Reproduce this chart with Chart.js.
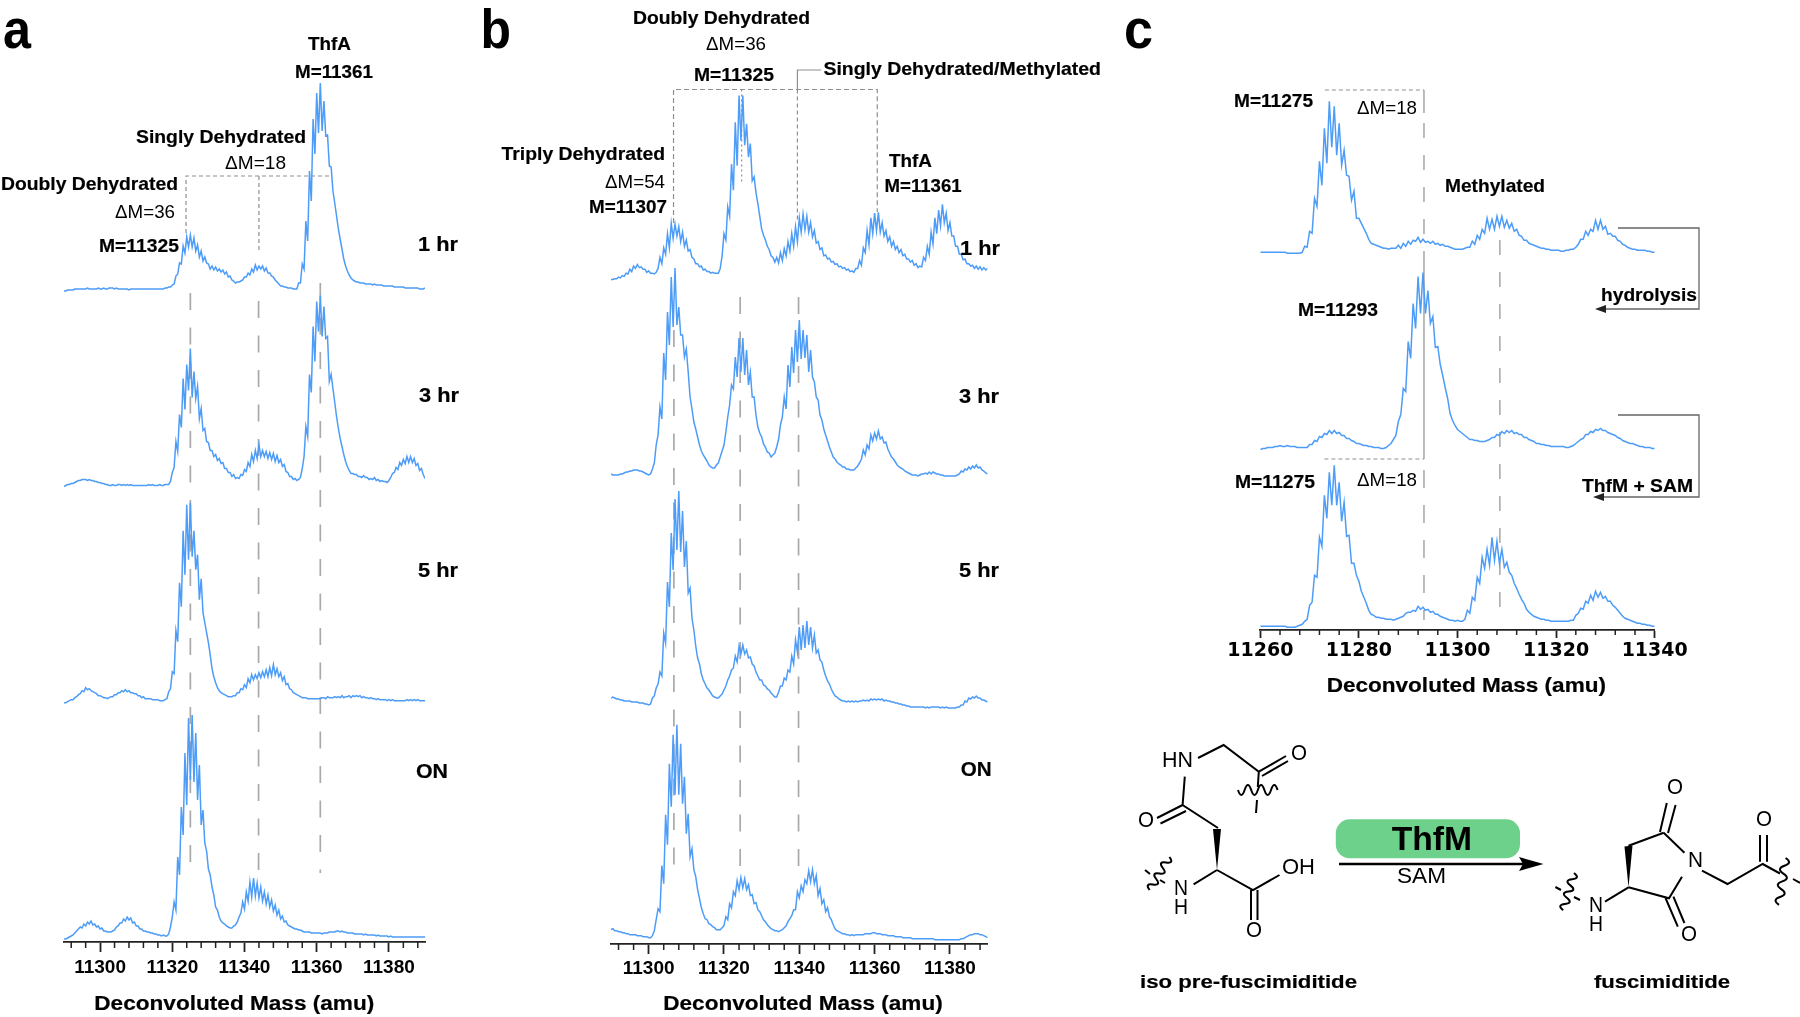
<!DOCTYPE html>
<html>
<head>
<meta charset="utf-8">
<title>Deconvoluted mass spectra</title>
<script src="https://cdn.jsdelivr.net/npm/chart.js@4"></script>
<style>
  html, body { margin: 0; padding: 0; background: #fff; }
  body { width: 1800px; height: 1017px; position: relative; overflow: hidden; }
  canvas, svg { position: absolute; left: 0; top: 0; }
  text { font-family: "Liberation Sans", Arial, sans-serif; fill: #000; }
  .b { font-weight: 700; font-size: 19px; stroke: #000; stroke-width: 0.2; }
  .r { font-size: 19px; }
  .big { font-weight: 700; font-size: 56px; }
  .hr { font-weight: 700; font-size: 20.5px; stroke: #000; stroke-width: 0.2; }
  .ax { font-weight: 700; font-size: 19.5px; stroke: #000; stroke-width: 0.2; }
  .atom { font-size: 22px; }
  .bond { stroke: #000; stroke-width: 2; fill: none; }
  .brk { stroke: #666; stroke-width: 1.3; fill: none; }
</style>
</head>
<body>
<canvas id="panelA" width="1800" height="1017"></canvas>
<canvas id="panelB" width="1800" height="1017"></canvas>
<canvas id="panelC" width="1800" height="1017"></canvas>

<svg width="1800" height="1017" viewBox="0 0 1800 1017">
  <!-- panel letters -->
  <text class="big" x="3" y="47.5" textLength="28" lengthAdjust="spacingAndGlyphs">a</text>
  <text class="big" x="480.5" y="47.7" textLength="30.5" lengthAdjust="spacingAndGlyphs">b</text>
  <text class="big" x="1124" y="48" textLength="29" lengthAdjust="spacingAndGlyphs">c</text>

  <!-- panel a labels -->
  <text class="b" x="308" y="50" textLength="43" lengthAdjust="spacingAndGlyphs">ThfA</text>
  <text class="b" x="295" y="78" textLength="78" lengthAdjust="spacingAndGlyphs">M=11361</text>
  <text class="b" x="136" y="143" textLength="170" lengthAdjust="spacingAndGlyphs">Singly Dehydrated</text>
  <text class="r" x="225" y="169" textLength="61" lengthAdjust="spacingAndGlyphs">ΔM=18</text>
  <text class="b" x="1" y="190" textLength="177" lengthAdjust="spacingAndGlyphs">Doubly Dehydrated</text>
  <text class="r" x="115" y="218" textLength="60" lengthAdjust="spacingAndGlyphs">ΔM=36</text>
  <text class="b" x="99" y="252" textLength="80" lengthAdjust="spacingAndGlyphs">M=11325</text>
  <text class="hr" x="418" y="251" textLength="40" lengthAdjust="spacingAndGlyphs">1 hr</text>
  <text class="hr" x="419" y="401.7" textLength="40" lengthAdjust="spacingAndGlyphs">3 hr</text>
  <text class="hr" x="418" y="576.7" textLength="40" lengthAdjust="spacingAndGlyphs">5 hr</text>
  <text class="hr" x="416" y="778" textLength="32" lengthAdjust="spacingAndGlyphs">ON</text>
  <text class="ax" x="94.3" y="1010" textLength="280" lengthAdjust="spacingAndGlyphs">Deconvoluted Mass (amu)</text>

  <!-- panel b labels -->
  <text class="b" x="633" y="24" textLength="177" lengthAdjust="spacingAndGlyphs">Doubly Dehydrated</text>
  <text class="r" x="706" y="50" textLength="60" lengthAdjust="spacingAndGlyphs">ΔM=36</text>
  <text class="b" x="694" y="81" textLength="80" lengthAdjust="spacingAndGlyphs">M=11325</text>
  <text class="b" x="823.5" y="75" textLength="277.5" lengthAdjust="spacingAndGlyphs">Singly Dehydrated/Methylated</text>
  <text class="b" x="501.6" y="160" textLength="163.4" lengthAdjust="spacingAndGlyphs">Triply Dehydrated</text>
  <text class="r" x="605" y="188" textLength="60" lengthAdjust="spacingAndGlyphs">ΔM=54</text>
  <text class="b" x="589" y="213" textLength="78" lengthAdjust="spacingAndGlyphs">M=11307</text>
  <text class="b" x="889" y="167" textLength="43" lengthAdjust="spacingAndGlyphs">ThfA</text>
  <text class="b" x="884.6" y="192" textLength="77" lengthAdjust="spacingAndGlyphs">M=11361</text>
  <text class="hr" x="960" y="255" textLength="40" lengthAdjust="spacingAndGlyphs">1 hr</text>
  <text class="hr" x="959" y="403" textLength="40" lengthAdjust="spacingAndGlyphs">3 hr</text>
  <text class="hr" x="959" y="577" textLength="40" lengthAdjust="spacingAndGlyphs">5 hr</text>
  <text class="hr" x="960.7" y="775.7" textLength="31" lengthAdjust="spacingAndGlyphs">ON</text>
  <text class="ax" x="663.3" y="1010" textLength="279.4" lengthAdjust="spacingAndGlyphs">Deconvoluted Mass (amu)</text>

  <!-- panel c labels -->
  <text class="b" x="1234" y="106.7" textLength="79" lengthAdjust="spacingAndGlyphs">M=11275</text>
  <text class="r" x="1357" y="114" textLength="60" lengthAdjust="spacingAndGlyphs">ΔM=18</text>
  <text class="b" x="1445" y="192" textLength="100" lengthAdjust="spacingAndGlyphs">Methylated</text>
  <text class="b" x="1298" y="316" textLength="80" lengthAdjust="spacingAndGlyphs">M=11293</text>
  <text class="b" x="1601" y="300.7" textLength="96" lengthAdjust="spacingAndGlyphs">hydrolysis</text>
  <text class="b" x="1582" y="492" textLength="111" lengthAdjust="spacingAndGlyphs">ThfM + SAM</text>
  <text class="b" x="1235" y="488" textLength="80" lengthAdjust="spacingAndGlyphs">M=11275</text>
  <text class="r" x="1357" y="486" textLength="60" lengthAdjust="spacingAndGlyphs">ΔM=18</text>
  <text class="ax" x="1326.7" y="692" textLength="279.3" lengthAdjust="spacingAndGlyphs">Deconvoluted Mass (amu)</text>

  <!-- hydrolysis / ThfM brackets -->
  <path class="brk" d="M1618 228 H1699 V309 H1604"/>
  <path d="M1595 309 l11 -4 v8 z" fill="#222"/>
  <path class="brk" d="M1618 415 H1699 V497 H1602"/>
  <path d="M1593 497 l11 -4 v8 z" fill="#222"/>

  <!-- iso pre-fuscimiditide -->
  <text class="atom" x="1162" y="767" textLength="31" lengthAdjust="spacingAndGlyphs">HN</text>
  <text class="atom" x="1291" y="760" textLength="16" lengthAdjust="spacingAndGlyphs">O</text>
  <text class="atom" x="1138" y="827" textLength="16" lengthAdjust="spacingAndGlyphs">O</text>
  <text class="atom" x="1282" y="874" textLength="33" lengthAdjust="spacingAndGlyphs">OH</text>
  <text class="atom" x="1174" y="895" textLength="14" lengthAdjust="spacingAndGlyphs">N</text>
  <text class="atom" x="1174" y="914" textLength="14" lengthAdjust="spacingAndGlyphs">H</text>
  <text class="atom" x="1246" y="937" textLength="16" lengthAdjust="spacingAndGlyphs">O</text>
  <path class="bond" d="M1198 758 L1223.6 745 L1258.8 771.7 L1257.8 787 M1257 800 L1256 813 M1258.8 771.7 L1286 756 M1262 776 L1288 761"/>
  <path class="bond" d="M1238 790 q3.3 10 6.6 0 t6.6 0 t6.6 0 t6.6 0 t6.6 0 t6.6 0"/>
  <path class="bond" d="M1184.8 776.7 L1182.6 805 L1218 828 M1182.6 805 L1157 818 M1186 811 L1160.5 823.5"/>
  <path d="M1217 870 L1213 829 L1221 829 Z" fill="#000"/>
  <path class="bond" d="M1217 870 L1193.6 884.3 M1217 870 L1253 890 L1279.5 875 M1251 890 V920 M1257.5 890 V920"/>
  <path class="bond" d="M1169.4 857 q5.15 6.75 -3.3 5.5 t-3.3 5.5 t-3.3 5.5 t-3.3 5.5 t-3.3 5.5 t-3.3 5.5 M1145 870 L1150 874 M1160 880 L1165 883" />

  <!-- reaction arrow -->
  <rect x="1335.8" y="819.3" width="184.2" height="39" rx="14" fill="#6dd18b"/>
  <text x="1391.7" y="850" font-size="33" font-weight="700" textLength="80.3" lengthAdjust="spacingAndGlyphs">ThfM</text>
  <path d="M1339 864 H1525" stroke="#000" stroke-width="2.4"/>
  <path d="M1519 857 L1543.5 864 L1519 871 L1523 864 Z" fill="#000"/>
  <text x="1397" y="883" font-size="22" textLength="49" lengthAdjust="spacingAndGlyphs">SAM</text>

  <!-- fuscimiditide -->
  <text class="atom" x="1667" y="794" textLength="16" lengthAdjust="spacingAndGlyphs">O</text>
  <text class="atom" x="1688" y="866.7" textLength="15" lengthAdjust="spacingAndGlyphs">N</text>
  <text class="atom" x="1681" y="940.7" textLength="16" lengthAdjust="spacingAndGlyphs">O</text>
  <text class="atom" x="1756" y="826" textLength="16" lengthAdjust="spacingAndGlyphs">O</text>
  <text class="atom" x="1589" y="911.7" textLength="14" lengthAdjust="spacingAndGlyphs">N</text>
  <text class="atom" x="1589" y="931" textLength="14" lengthAdjust="spacingAndGlyphs">H</text>
  <path class="bond" d="M1666.8 803 L1660 832 M1675.6 805 L1668 833 M1663.7 832.7 L1628.5 845.7 M1663.7 832.7 L1684.4 852.7"/>
  <path d="M1628.5 887.3 L1624.5 846.5 L1632.5 845.5 Z" fill="#000"/>
  <path class="bond" d="M1628.5 887.3 L1669 898.3 L1682 876.7 M1665.5 898 L1677.8 926.7 M1673.4 896.7 L1684.4 923 M1628.5 887.3 L1605 901.7"/>
  <path class="bond" d="M1702 870.7 L1727.5 884 L1762.7 864 L1780 873.5 M1793 879 L1800 883 M1760 861.7 V835 M1767 861.7 V835"/>
  <path class="bond" d="M1785.6 858 q7.45 5 -1.1 7.8 t-1.1 7.8 t-1.1 7.8 t-1.1 7.8 t-1.1 7.8 t-1.1 7.8"/>
  <path class="bond" d="M1574 873 q6.7 5.3 -1.8 6.2 t-1.8 6.2 t-1.8 6.2 t-1.8 6.2 t-1.8 6.2 t-1.8 6.2 M1555.4 887 L1561 890 M1574 897 L1580 900"/>

  <text class="b" x="1140" y="987.7" textLength="217" lengthAdjust="spacingAndGlyphs">iso pre-fuscimiditide</text>
  <text class="b" x="1594" y="987.7" textLength="136" lengthAdjust="spacingAndGlyphs">fuscimiditide</text>
</svg>

<script>
// intensities, one value every 0.5 amu
const a1hr = [
  0,0,1,1,1,1,2,2,2,2,2,2,2,3,2,2,2,2,2,3,
  2,2,3,2,2,3,3,3,2,3,2,2,2,2,2,2,1,2,2,2,
  2,2,2,2,2,2,2,2,2,2,2,2,2,2,2,2,3,3,4,4,
  6,7,15,17,28,27,45,38,54,44,56,44,53,40,46,34,40,30,34,28,
  27,22,25,21,24,20,22,19,21,17,19,14,15,11,10,8,9,9,10,11,
  14,14,18,16,22,19,26,21,25,22,25,20,23,18,18,15,14,11,9,7,
  5,5,4,4,3,3,3,2,2,2,8,8,27,22,70,50,120,90,172,137,
  198,158,208,160,190,155,156,125,124,100,88,75,62,52,42,32,25,20,16,13,
  11,10,9,9,8,8,8,7,7,7,7,6,7,6,6,6,6,5,5,5,
  5,5,5,4,4,4,4,4,4,3,3,3,3,3,3,3,3,2,2,2,3];
const a3hr = [
  0,1,2,2,3,3,4,5,6,6,7,7,7,6,7,6,6,5,5,4,
  4,3,3,2,2,1,1,2,1,1,2,2,1,2,1,2,1,2,1,1,
  1,1,1,1,1,1,1,2,1,2,1,1,1,2,1,1,2,2,2,5,
  14,19,45,35,72,59,108,77,122,96,138,89,115,88,100,68,78,56,58,45,
  44,36,36,30,32,26,28,23,24,18,18,14,14,10,12,8,9,8,12,11,
  17,15,24,20,32,25,36,28,42,30,36,30,35,28,34,27,33,25,31,24,
  27,20,22,15,14,10,10,7,8,6,7,9,18,30,60,50,112,94,160,125,
  185,155,191,150,180,148,150,105,112,98,84,70,58,48,40,32,25,20,16,13,
  13,12,12,10,10,9,11,9,9,7,8,7,9,6,7,5,6,5,5,4,
  6,9,13,14,19,17,24,21,27,23,30,24,30,24,28,21,23,16,18,12,8];
const a5hr = [
  0,0,1,2,3,3,5,6,8,9,12,11,15,13,14,12,11,10,9,7,
  7,6,5,5,4,5,6,6,8,8,10,10,12,11,13,11,12,10,10,9,
  9,7,7,5,6,4,4,4,4,3,3,3,3,2,2,2,3,4,11,14,
  31,29,72,61,120,96,172,128,198,143,200,146,172,133,148,103,124,90,80,70,
  60,48,34,26,20,15,12,10,9,8,7,6,6,6,7,7,10,10,14,13,
  18,15,24,20,28,23,28,24,30,25,31,26,33,26,35,27,38,28,34,26,
  30,22,26,18,19,14,13,10,9,8,7,6,5,5,5,4,4,4,4,4,
  4,4,4,5,5,4,6,5,5,5,6,5,6,5,7,5,6,6,7,5,
  7,6,7,6,7,5,6,5,5,4,5,4,4,3,4,3,3,3,3,2,
  3,2,3,2,2,2,2,2,2,2,3,2,3,2,3,2,3,2,2,2,2];
const aON = [
  0,0,1,2,3,4,6,8,10,12,11,15,13,17,15,18,14,15,12,13,
  10,11,8,8,7,7,7,8,9,12,13,16,16,20,18,22,19,21,16,17,
  13,13,10,10,8,8,7,7,6,6,5,5,4,4,3,4,3,3,5,12,
  22,37,29,82,64,132,104,186,134,221,159,224,157,206,139,174,114,129,96,88,
  70,64,52,44,32,29,22,18,16,15,13,12,11,11,13,14,17,22,26,37,
  30,47,38,57,42,61,43,56,41,52,38,47,35,44,32,39,28,34,24,29,
  20,23,17,18,14,13,12,11,10,10,9,9,8,7,7,7,7,6,6,6,
  6,6,6,5,6,6,6,7,7,7,7,8,8,7,8,7,7,6,6,6,
  6,5,5,5,5,5,4,5,4,4,4,4,4,3,4,3,3,3,3,3,
  2,3,2,2,2,2,2,2,2,2,2,2,2,2,2,2,2,2,2,2,2];

const b1hr = [
  0,0,1,1,3,2,5,4,8,7,13,10,17,14,19,15,16,13,13,9,
  11,8,8,7,9,14,28,20,40,32,58,40,71,52,70,55,67,48,60,42,
  50,36,38,28,26,20,20,16,17,12,13,10,10,8,9,8,8,8,14,30,
  58,50,92,80,146,113,199,144,233,176,233,170,197,155,172,125,130,110,96,80,
  64,56,50,42,38,30,28,22,28,21,34,24,39,30,48,36,58,42,67,48,
  78,60,83,63,80,60,72,54,62,46,48,38,40,30,31,26,27,22,23,19,
  20,16,17,14,15,12,13,10,11,9,14,14,24,18,40,34,62,44,78,58,
  84,62,85,60,72,55,62,48,54,42,48,38,42,34,38,30,32,26,26,22,
  24,18,20,15,17,16,28,24,42,32,60,45,78,58,88,68,95,72,84,62,
  72,55,55,42,42,32,32,25,26,20,20,17,18,14,17,13,16,12,15,12,14];
const b3hr = [
  3,2,2,2,2,3,3,4,5,5,6,6,7,7,7,6,6,5,4,3,
  2,3,8,14,32,42,70,58,124,97,165,132,200,150,209,152,170,142,142,120,
  128,105,80,68,55,48,40,32,26,22,19,16,12,10,9,9,12,14,20,26,
  32,45,60,72,92,88,120,100,139,105,139,102,127,92,105,80,80,62,50,44,
  40,33,30,25,24,20,22,24,30,38,52,60,80,68,112,90,130,104,147,115,
  157,118,147,119,142,105,127,100,95,80,77,62,57,48,42,36,30,25,20,18,
  15,13,12,10,10,8,8,7,7,7,9,11,14,18,27,22,32,28,42,36,
  44,38,46,38,40,34,35,28,24,20,18,15,12,10,9,8,6,5,4,3,
  2,2,2,1,2,3,3,4,3,5,3,5,4,3,3,2,2,1,1,1,
  1,1,1,1,2,3,6,5,8,7,10,8,11,9,12,9,10,7,6,4,3];
const b5hr = [
  10,11,10,9,9,8,8,7,7,7,7,6,6,6,6,5,5,5,4,4,
  3,4,10,12,20,24,36,32,75,65,126,101,175,138,209,158,217,156,197,141,
  167,115,120,90,78,62,50,44,34,28,24,20,18,15,12,11,10,10,12,14,
  18,22,28,32,38,40,52,46,62,54,63,54,58,50,51,44,42,36,32,28,
  28,23,22,19,18,15,13,11,11,16,22,22,30,28,38,36,52,44,68,56,
  81,58,83,60,87,63,81,60,73,55,58,48,46,38,32,27,24,19,15,12,
  11,9,8,7,7,6,7,6,7,6,7,6,7,7,8,7,8,7,9,8,
  9,8,9,8,9,7,8,7,7,6,6,5,5,4,4,3,3,2,2,1,
  1,1,1,1,1,1,1,0,1,0,1,1,1,1,1,0,1,0,1,0,
  0,0,0,0,1,1,3,3,7,6,10,9,11,10,12,10,10,8,8,7,6];
const bON = [
  10,11,9,9,8,8,7,7,6,6,5,5,5,5,4,4,4,3,3,3,
  2,2,4,9,20,31,28,74,56,125,95,176,133,205,145,215,145,196,136,163,
  106,126,83,91,70,63,50,41,32,26,21,20,16,15,13,12,10,10,10,12,
  14,23,20,36,32,48,44,59,50,62,52,61,50,55,44,45,36,37,30,28,
  24,20,18,15,13,11,10,9,9,8,9,10,12,14,18,21,24,30,30,48,
  42,54,48,60,56,69,58,70,56,64,44,51,36,40,28,32,23,20,15,11,
  9,8,7,6,6,5,5,4,5,4,5,5,5,5,5,6,6,6,6,7,
  7,6,6,6,5,5,5,4,4,4,4,3,3,3,3,2,2,2,2,2,
  1,1,1,1,1,1,1,1,1,1,1,1,0,0,0,0,0,0,0,0,
  0,0,0,0,0,0,1,1,2,3,4,5,5,6,6,6,5,5,4,3,2];

const c1 = [
  1,1,1,1,1,1,1,1,1,1,1,0,0,0,0,0,0,1,7,6,
  22,20,55,47,92,68,125,90,152,106,147,98,130,88,103,78,77,53,62,35,
  35,30,25,20,14,10,9,8,7,6,5,5,4,5,5,5,8,5,10,7,
  12,9,13,12,16,11,14,11,12,10,12,9,10,8,9,7,7,6,5,4,
  4,4,4,5,6,6,12,9,18,14,24,20,35,24,34,24,37,27,37,26,
  33,25,30,22,24,18,17,13,13,10,9,8,7,6,5,5,4,4,3,3,
  3,3,2,2,3,3,4,4,6,9,14,14,22,18,24,22,33,24,33,24,
  27,19,20,17,17,13,12,9,8,6,5,4,4,3,3,3,3,2,2,1,1];
const c2 = [
  0,1,1,2,2,2,3,3,4,3,3,4,3,3,3,2,2,2,2,2,
  5,5,9,8,13,12,16,15,19,16,19,16,17,14,14,11,11,9,8,6,
  6,5,4,4,3,3,2,2,2,1,1,2,4,6,10,14,28,35,61,58,
  108,91,146,121,173,136,177,136,159,126,133,102,103,85,74,62,51,36,29,24,
  20,18,16,14,12,10,10,9,9,8,8,8,9,10,12,12,15,14,18,16,
  19,17,19,16,17,15,15,12,12,10,9,8,6,6,5,5,4,4,3,3,
  3,3,3,3,2,2,3,4,6,8,10,11,15,15,18,17,20,19,21,19,
  19,17,16,15,14,12,11,9,8,7,6,6,5,4,3,3,2,2,2,1,1];
const c3 = [
  1,1,1,1,1,1,1,1,1,1,1,0,0,0,0,1,2,3,6,8,
  22,25,52,50,90,81,132,109,155,122,162,122,145,106,125,91,92,64,64,52,
  46,36,30,24,17,13,12,10,10,9,9,8,8,8,7,8,9,10,11,14,
  15,15,17,16,21,18,20,17,18,15,16,13,13,11,10,9,8,7,7,6,
  7,6,6,8,17,14,30,27,50,44,70,59,78,62,90,67,86,64,78,60,
  65,55,52,44,39,33,28,24,18,15,13,11,10,9,8,8,7,7,6,6,
  6,6,6,6,6,6,7,7,12,14,19,18,26,24,32,27,36,30,35,29,
  31,26,26,22,20,17,14,11,9,8,7,6,5,4,4,3,3,2,2,1,1];

// tick labels
const majorA = [11300, 11320, 11340, 11360, 11380];
const minorA = [11292, 11296, 11304, 11308, 11312, 11316, 11324, 11328, 11332, 11336, 11344, 11348, 11352, 11356, 11364, 11368, 11372, 11376, 11384, 11388];
const majorC = [11260, 11280, 11300, 11320, 11340];
const minorC = [11264, 11268, 11272, 11276, 11284, 11288, 11292, 11296, 11304, 11308, 11312, 11316, 11324, 11328, 11332, 11336];

// where each spectrum sits in the stack
const offsetsA = [651, 455.5, 239.3, 3];
const offsetsB = [664.5, 467, 236, 4.3];
const gainsB = [0.79, 1, 1, 1];
const offsetsC = [376.7, 180.5, 2.7];

// reference lines: [mass, height] polylines
const longDash = [17, 17.5];
const shortDash = [4, 3];
const guidesA = [
  { dash: longDash, pts: [[11325, 649], [11325, 79]] },
  { dash: longDash, pts: [[11343.9, 641], [11343.9, 69]] },
  { dash: longDash, pts: [[11361, 659], [11361, 69]] },
  { dash: shortDash, pts: [[11323.8, 709], [11323.8, 766], [11364, 766]] },
  { dash: shortDash, pts: [[11344, 766], [11344, 689]] },
];
const guidesB = [
  { dash: longDash, pts: [[11306.7, 614], [11306.7, 77]] },
  { dash: longDash, pts: [[11324.3, 647], [11324.3, 78]] },
  { dash: longDash, pts: [[11339.8, 647], [11339.8, 74]] },
  { dash: [5, 3], pts: [[11306.6, 721], [11306.6, 854.5], [11360.7, 854.5], [11360.7, 732]] },
  { dash: [2, 3], pts: [[11324.7, 854.5], [11324.7, 761]] },
  { dash: [], pts: [[11345.8, 874], [11339.5, 874], [11339.5, 854.5]] },
  { dash: [4, 3], pts: [[11339.5, 854.5], [11339.5, 724]] },
];
const guidesC = [
  { dash: shortDash, pts: [[11273.1, 540], [11293.2, 540]] },
  { dash: [], pts: [[11293.2, 540], [11293.2, 517]] },
  { dash: [15, 17], pts: [[11293.2, 507], [11293.2, 377]] },
  { dash: [], pts: [[11293.2, 377], [11293.2, 171]] },
  { dash: shortDash, pts: [[11273, 171], [11293.2, 171]] },
  { dash: [18, 17], pts: [[11293.2, 160], [11293.2, 10]] },
  { dash: [15, 17], pts: [[11308.6, 390], [11308.6, 7]] },
];

const minorTicks = {
  id: 'minorTicks',
  afterDraw(chart, args, opts) {
    const scale = chart.scales.x, c = chart.ctx;
    c.save();
    c.strokeStyle = '#222';
    c.lineWidth = 1.5;
    opts.values.forEach(v => {
      const x = scale.getPixelForValue(v);
      c.beginPath();
      c.moveTo(x, scale.top);
      c.lineTo(x, scale.top + opts.length);
      c.stroke();
    });
    c.restore();
  },
};

function traceData(values, startMass, offset, gain) {
  return values.map((v, i) => ({ x: startMass + i * 0.5, y: offset + v * gain }));
}

function spectrum(id, cfg) {
  const traces = cfg.traces.map((t, i) => ({
    data: traceData(t, cfg.min, cfg.offsets[i], cfg.gains ? cfg.gains[i] : 1),
    borderColor: '#4d9cf8',
    borderWidth: 1.5,
    pointRadius: 0,
    tension: 0,
  }));
  const guides = cfg.guides.map(g => ({
    data: g.pts.map(p => ({ x: p[0], y: p[1] })),
    borderColor: g.dash === longDash ? '#a9a9a9' : '#8f8f8f',
    borderWidth: g.dash === longDash ? 1.7 : 1.2,
    borderDash: g.dash,
    pointRadius: 0,
    tension: 0,
  }));
  new Chart(document.getElementById(id), {
    type: 'line',
    data: { datasets: traces.concat(guides) },
    plugins: [minorTicks],
    options: {
      responsive: false,
      animation: false,
      events: [],
      layout: {
        autoPadding: false,
        padding: { left: cfg.left, right: 1800 - cfg.right, top: 10, bottom: 1017 - cfg.axisY - 40 },
      },
      plugins: {
        legend: { display: false },
        tooltip: { enabled: false },
        minorTicks: { values: cfg.minor, length: cfg.minorLen },
      },
      scales: {
        x: {
          type: 'linear',
          min: cfg.min,
          max: cfg.max,
          afterFit(scale) { scale.height = 40; },
          afterBuildTicks(scale) { scale.ticks = cfg.major.map(v => ({ value: v })); },
          border: { color: '#222', width: 1.8 },
          grid: { drawOnChartArea: false, tickLength: cfg.majorLen, tickColor: '#222', tickWidth: 1.8 },
          ticks: {
            autoSkip: false,
            maxRotation: 0,
            padding: cfg.tickPad,
            color: '#000',
            font: cfg.font,
            callback: v => String(v),
          },
        },
        y: { display: false, min: 0, max: cfg.axisY - 10 },
      },
    },
  });
}

spectrum('panelA', {
  traces: [a1hr, a3hr, a5hr, aON], offsets: offsetsA, guides: guidesA,
  min: 11290, max: 11390, left: 64, right: 425, axisY: 942,
  major: majorA, minor: minorA, majorLen: 10, minorLen: 6, tickPad: 4,
  font: { family: '"Liberation Sans"', size: 19, weight: 'bold' },
});
spectrum('panelB', {
  traces: [b1hr, b3hr, b5hr, bON], offsets: offsetsB, gains: gainsB, guides: guidesB,
  min: 11290, max: 11390, left: 611, right: 987.6, axisY: 944,
  major: majorA, minor: minorA, majorLen: 10, minorLen: 6, tickPad: 3,
  font: { family: '"Liberation Sans"', size: 19, weight: 'bold' },
});
spectrum('panelC', {
  traces: [c1, c2, c3], offsets: offsetsC, guides: guidesC,
  min: 11260, max: 11340, left: 1260.3, right: 1654.7, axisY: 630,
  major: majorC, minor: minorC, majorLen: 8, minorLen: 5, tickPad: 2,
  font: { family: '"DejaVu Sans"', size: 19, weight: 'bold' },
});
</script>
</body>
</html>
